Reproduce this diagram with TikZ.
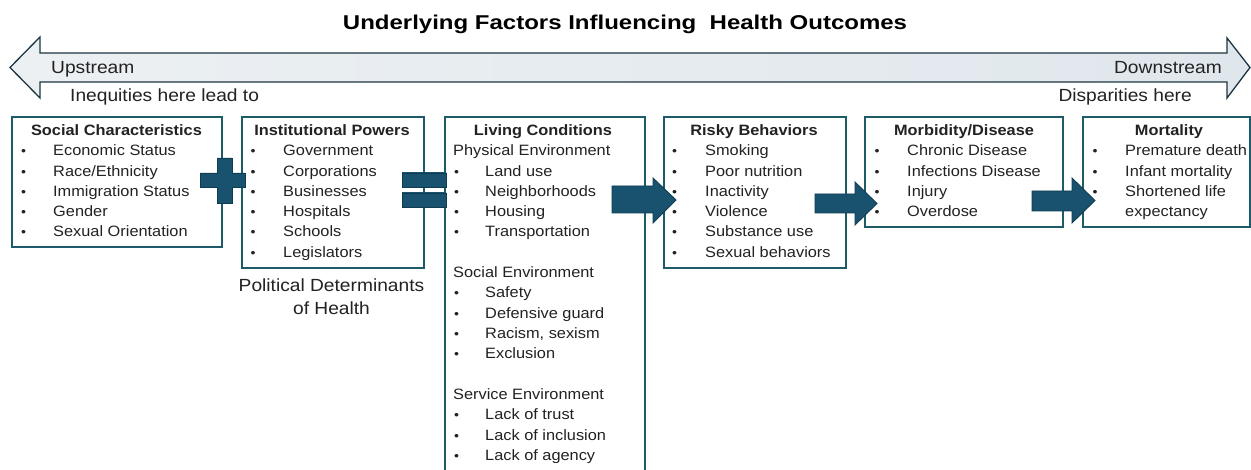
\documentclass[tikz,border=0pt]{standalone}
\usepackage{fontspec}
\setmainfont{Liberation Sans}[FakeStretch=1.09]
\newfontfamily\titlefont{Liberation Sans}[FakeStretch=1.2]
\usetikzlibrary{calc}
\definecolor{boxline}{HTML}{1E5B68}
\definecolor{arrfill}{HTML}{2A7397}
\definecolor{arrdark}{HTML}{18526E}
\definecolor{arrline}{HTML}{103C52}
\definecolor{bandmid}{HTML}{BCCBD6}
\definecolor{bandlight}{HTML}{ECF0F3}
\definecolor{bandright}{HTML}{E0E7EC}
\definecolor{bandline}{HTML}{1C3442}
\definecolor{ink}{HTML}{222222}
\begin{document}
\begin{tikzpicture}[x=1pt,y=-1pt,
  box/.style={draw=boxline, line width=1.8pt, fill=white, anchor=north west, inner sep=0pt},
  txt/.style={anchor=base west, inner sep=0pt, font=\fontsize{15}{18}\selectfont, text=ink},
  hd/.style={anchor=base, inner sep=0pt, font=\fontsize{15}{18}\selectfont\bfseries, text=ink},
  blt/.style={anchor=base, inner sep=0pt, font=\fontsize{13}{18}\selectfont, text=ink},
  lbl/.style={inner sep=0pt, font=\fontsize{17.6}{20}\selectfont, text=ink},
  blockarrow/.style={draw=arrline, line width=0.9pt, top color=arrdark, middle color=arrfill, bottom color=arrdark},
]
\useasboundingbox (0,0) rectangle (1251,470);

% title
\node[anchor=base, inner sep=0pt, font=\titlefont\fontsize{20}{22}\selectfont\bfseries, text=black] (title) at (625,30) {Underlying Factors Influencing\ \ Health Outcomes};

% big double arrow
\path[draw=bandline, line width=1.3pt, left color=bandlight, middle color=bandmid, right color=bandright]
  (10,67.5) -- (40,37) -- (40,53) -- (1227,53) -- (1227,38) -- (1250,67.5)
  -- (1227,98) -- (1227,82) -- (40,82) -- (40,98) -- cycle;
\node[lbl, anchor=base west] (up) at (51,73.5) {Upstream};
\node[lbl, anchor=base east] (down) at (1222,73.5) {Downstream};
\node[lbl, anchor=base west] (ineq) at (70,101.5) {Inequities here lead to};
\node[lbl, anchor=base east] (disp) at (1192,101.5) {Disparities here};

% boxes
\node[box, minimum width=210pt, minimum height=130pt] (b1) at (11,116) {};
\node[box, minimum width=182pt, minimum height=151pt] (b2) at (241,116) {};
\node[box, minimum width=200pt, minimum height=370pt] (b3) at (444,116) {};
\node[box, minimum width=182pt, minimum height=151pt] (b4) at (663,116) {};
\node[box, minimum width=198pt, minimum height=110pt] (b5) at (864,116) {};
\node[box, minimum width=167pt, minimum height=110pt] (b6) at (1082,116) {};

% headings
\node[hd] (h1) at (116.5,135.5) {Social Characteristics};
\node[hd] (h2) at (332,135.5) {Institutional Powers};
\node[hd] (h3) at (543,135.5) {Living Conditions};
\node[hd] (h4) at (754,135.5) {Risky Behaviors};
\node[hd] (h5) at (964,135.5) {Morbidity/Disease};
\node[hd] (h6) at (1169,135.5) {Mortality};

% box 1
\foreach \t [count=\k] in {Economic Status, Race/Ethnicity, Immigration Status, Gender, Sexual Orientation} {
  \node[blt] (b1d\k) at (23.5,{135.5+20.3*\k}) {\textbullet};
  \node[txt] (b1t\k) at (53,{135.5+20.3*\k}) {\t};
}
% box 2
\foreach \t [count=\k] in {Government, Corporations, Businesses, Hospitals, Schools, Legislators} {
  \node[blt] (b2d\k) at (253,{135.5+20.3*\k}) {\textbullet};
  \node[txt] (b2t\k) at (283,{135.5+20.3*\k}) {\t};
}
% box 3
\node[txt] (s31) at (453,{135.5+20.3*1}) {Physical Environment};
\node[txt] (s32) at (453,{135.5+20.3*7}) {Social Environment};
\node[txt] (s33) at (453,{135.5+20.3*13}) {Service Environment};
\foreach \t/\k in {Land use/2, Neighborhoods/3, Housing/4, Transportation/5, Safety/8, Defensive guard/9, {Racism, sexism}/10, Exclusion/11, Lack of trust/14, Lack of inclusion/15, Lack of agency/16} {
  \node[blt] (b3d\k) at (456.5,{135.5+20.3*\k}) {\textbullet};
  \node[txt] (b3t\k) at (485,{135.5+20.3*\k}) {\t};
}
% box 4
\foreach \t [count=\k] in {Smoking, Poor nutrition, Inactivity, Violence, Substance use, Sexual behaviors} {
  \node[blt] (b4d\k) at (674.5,{135.5+20.3*\k}) {\textbullet};
  \node[txt] (b4t\k) at (705,{135.5+20.3*\k}) {\t};
}
% box 5
\foreach \t [count=\k] in {Chronic Disease, Infections Disease, Injury, Overdose} {
  \node[blt] (b5d\k) at (877,{135.5+20.3*\k}) {\textbullet};
  \node[txt] (b5t\k) at (907,{135.5+20.3*\k}) {\t};
}
% box 6
\foreach \t [count=\k] in {Premature death, Infant mortality, Shortened life} {
  \node[blt] (b6d\k) at (1095,{135.5+20.3*\k}) {\textbullet};
  \node[txt] (b6t\k) at (1125,{135.5+20.3*\k}) {\t};
}
\node[txt] (b6t4) at (1125,{135.5+20.3*4}) {expectancy};

% label under box 2
\node[lbl, anchor=base] (pd1) at (331.5,292) {Political Determinants};
\node[lbl, anchor=base] (pd2) at (331.5,315) {of Health};

% plus
\path[blockarrow] (217,158) -- (232,158) -- (232,173) -- (245,173) -- (245,187) -- (232,187)
  -- (232,203) -- (217,203) -- (217,187) -- (200,187) -- (200,173) -- (217,173) -- cycle;
% equals
\path[blockarrow] (402,173) rectangle (446,187);
\path[blockarrow] (402,193) rectangle (446,207);

% block arrows
\path[blockarrow] (612,186) -- (653,186) -- (653,178) -- (676,200) -- (653,223) -- (653,213) -- (612,213) -- cycle;
\path[blockarrow] (815,194) -- (855,194) -- (855,182) -- (877,203.5) -- (855,225) -- (855,213) -- (815,213) -- cycle;
\path[blockarrow] (1032,191) -- (1072,191) -- (1072,178) -- (1095,200.5) -- (1072,223) -- (1072,211) -- (1032,211) -- cycle;
\end{tikzpicture}
\end{document}
